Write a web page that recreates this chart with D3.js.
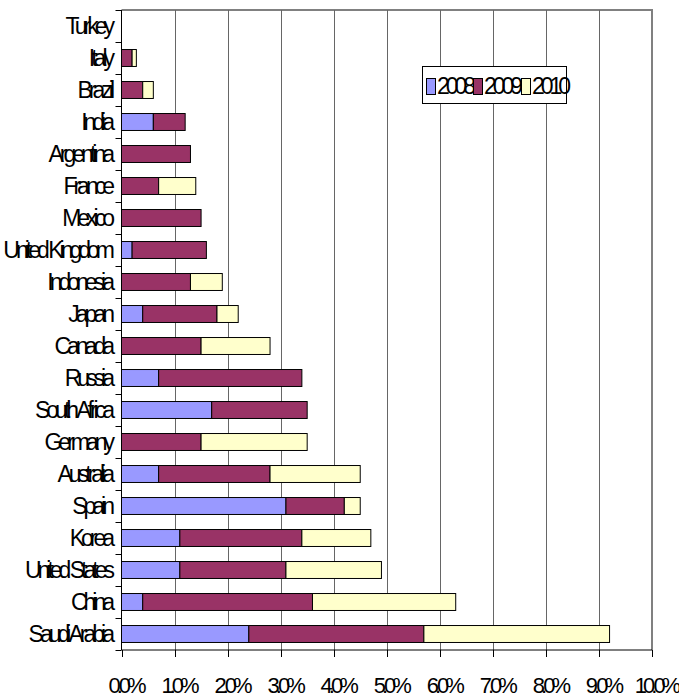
<!DOCTYPE html>
<html><head><meta charset="utf-8">
<script src="https://cdn.jsdelivr.net/npm/d3@7"></script>
<style>
html,body{margin:0;padding:0;background:#fff;}
text{font-family:"Liberation Sans",Arial,sans-serif;fill:#000;}
</style></head>
<body><svg id="c" width="679" height="699"></svg>
<script>
const categories = ["Turkey","Italy","Brazil","India","Argentina","France","Mexico","United Kingdom","Indonesia","Japan","Canada","Russia","South Africa","Germany","Australia","Spain","Korea","United States","China","Saudi Arabia"];
const seriesNames = ["2008","2009","2010"];
const v2008 = [0,0,0,0.6,0,0,0,0.2,0,0.4,0,0.7,1.7,0,0.7,3.1,1.1,1.1,0.4,2.4];
const v2009 = [0,0.2,0.4,0.6,1.3,0.7,1.5,1.4,1.3,1.4,1.5,2.7,1.8,1.5,2.1,1.1,2.3,2.0,3.2,3.3];
const v2010 = [0,0.08,0.2,0,0,0.7,0,0,0.6,0.4,1.3,0,0,2.0,1.7,0.3,1.3,1.8,2.7,3.5];
const xTicks = [0,1,2,3,4,5,6,7,8,9,10];
const colors = ["#9999FF","#993366","#FFFFCC"];

const rows = categories.map((c,i)=>({cat:c,"2008":v2008[i],"2009":v2009[i],"2010":v2010[i]}));
const svg = d3.select("#c");
const L = 121.5, R = 652, T = 10, B = 650;
const FS = 23, LS = -4;
const x = d3.scaleLinear().domain([0,10]).range([L,R]);
const y = d3.scaleBand().domain(categories).range([T,B]).paddingInner(0.47).paddingOuter(0.235);
const yb = d3.scaleBand().domain(categories).range([T,B]);

// frame (top/right grey)
svg.append("path").attr("d",`M${L},${T}H${R}V${B}`).attr("fill","none").attr("stroke","#808080").attr("stroke-width",2);
// gridlines
svg.append("g").selectAll("line").data(xTicks.filter(d=>d>0&&d<10)).join("line")
  .attr("x1",d=>Math.round(x(d))+0.5).attr("x2",d=>Math.round(x(d))+0.5).attr("y1",T).attr("y2",B)
  .attr("stroke","#666").attr("stroke-width",1);

// bars
const stack = d3.stack().keys(seriesNames)(rows);
svg.append("g").selectAll("g").data(stack).join("g")
  .attr("fill",(d,i)=>colors[i])
  .selectAll("rect").data(d=>d.filter(s=>s[1]-s[0]>0)).join("rect")
  .attr("x",d=>x(d[0])).attr("width",d=>x(d[1])-x(d[0]))
  .attr("y",d=>y(d.data.cat)).attr("height",y.bandwidth())
  .attr("stroke","#000").attr("stroke-width",1);

// left axis
const gl = svg.append("g");
gl.append("line").attr("x1",L).attr("x2",L).attr("y1",T).attr("y2",B).attr("stroke","#000");
gl.selectAll("line.t").data(categories.concat(["__end"])).join("line").attr("class","t")
  .attr("x1",L-6).attr("x2",L).attr("y1",(d,i)=>Math.round(T+i*yb.step())+0.5).attr("y2",(d,i)=>Math.round(T+i*yb.step())+0.5)
  .attr("stroke","#000");
gl.selectAll("text").data(categories).join("text")
  .attr("x",111).attr("y",d=>yb(d)+yb.bandwidth()/2).attr("dy","0.36em")
  .attr("text-anchor","end").attr("font-size",FS).attr("letter-spacing",LS)
  .text(d=>d);

// bottom axis
const gb = svg.append("g");
gb.append("line").attr("x1",L).attr("x2",R).attr("y1",B).attr("y2",B).attr("stroke","#000");
gb.selectAll("line.t").data(xTicks).join("line").attr("class","t")
  .attr("x1",d=>Math.round(x(d))+0.5).attr("x2",d=>Math.round(x(d))+0.5).attr("y1",B).attr("y2",B+7).attr("stroke","#000");
gb.selectAll("text").data(xTicks).join("text")
  .attr("x",d=>x(d)+4).attr("y",693).attr("text-anchor","middle")
  .attr("font-size",22).attr("letter-spacing",LS)
  .text(d=>d.toFixed(1)+"%");

// legend
const lg = svg.append("g");
lg.append("rect").attr("x",422.5).attr("y",66.5).attr("width",144).attr("height",37).attr("fill","#fff").attr("stroke","#000");
const legX = [426,473,521];
seriesNames.forEach((s,i)=>{
  lg.append("rect").attr("x",legX[i]+0.5).attr("y",78.5).attr("width",9).attr("height",16).attr("fill",colors[i]).attr("stroke","#000");
  lg.append("text").attr("x",legX[i]+11).attr("y",94).attr("font-size",FS).attr("letter-spacing",LS).text(s);
});
</script></body></html>
